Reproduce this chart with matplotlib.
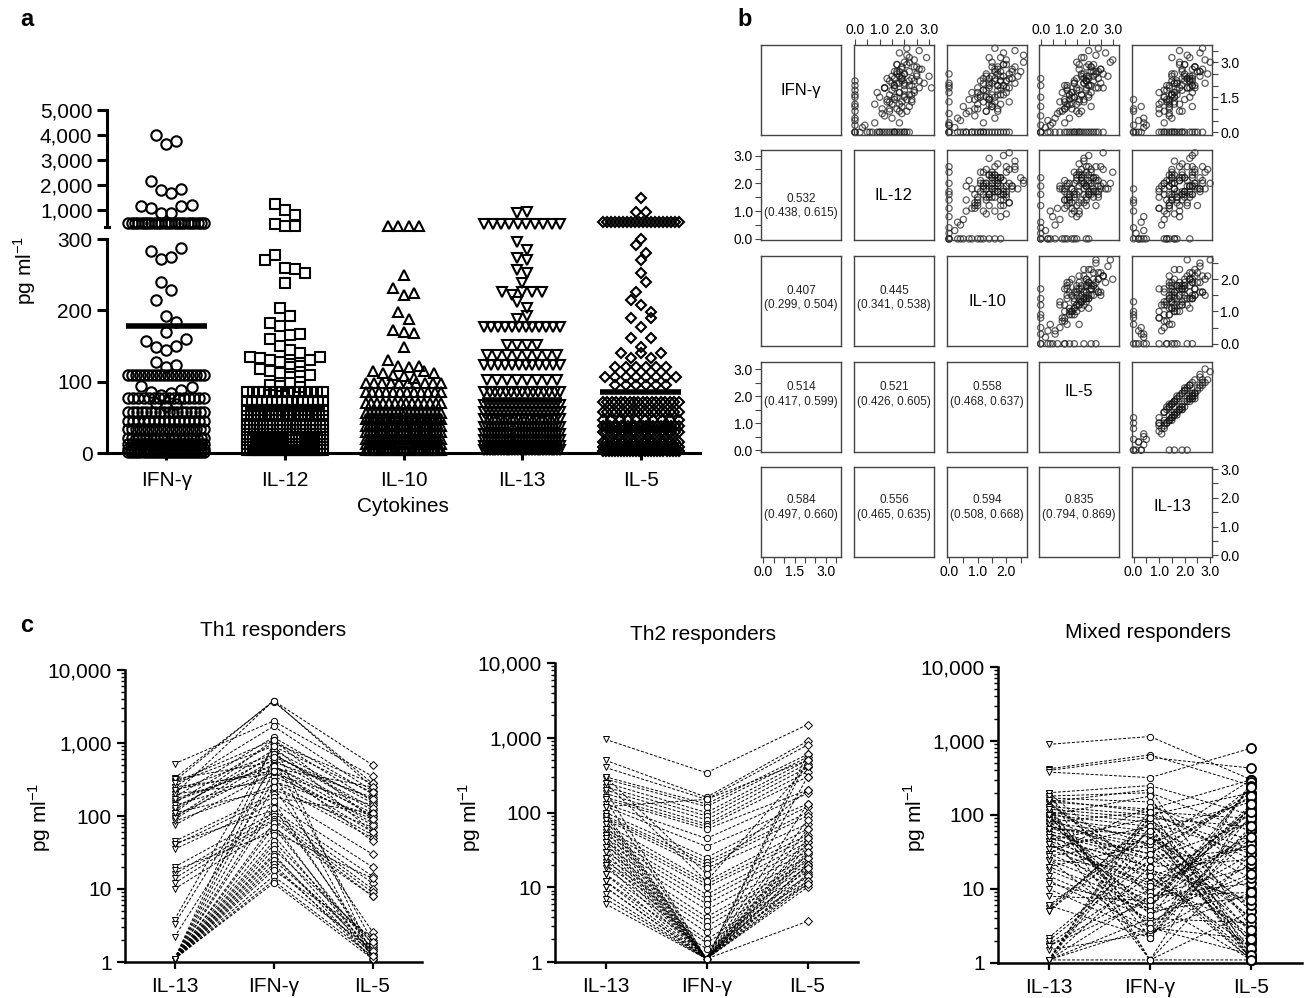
import numpy as np
import matplotlib
matplotlib.use('Agg')
from matplotlib import pyplot as plt
from matplotlib.ticker import FuncFormatter, LogLocator, NullFormatter

plt.rcParams['font.family'] = ['Liberation Sans', 'DejaVu Sans']
plt.rcParams['mathtext.fontset'] = 'custom'
plt.rcParams['mathtext.rm'] = 'Liberation Sans'

# ---------------- panel a : cytokine scatter (pg/ml) ----------------
cytokines_a = ['IFN-γ', 'IL-12', 'IL-10', 'IL-13', 'IL-5']
markers_a = ['o', 's', '^', 'v', 'D']
means_a = [178, 62, 42, 74, 86]

# sparse rows: each inner list is one horizontal row of points
ifn_sparse = [[3990, 3650, 3760], [2140, 1770, 1670, 1840], [1130, 1050, 870, 870, 1130, 1200],
              [283, 272, 275, 288], [240, 228], [215, 192, 183], [170],
              [157, 148, 145, 150, 160], [127, 120, 123], [94, 86, 82, 84, 88, 92], [70, 66, 68]]
il12_sparse = [[1240, 1000, 790], [434, 325, 325], [270, 278, 260, 258, 252], [238], [203, 192],
               [182, 178, 165, 167], [160, 150, 145, 140], [135, 133, 130, 128, 125, 122, 130, 135],
               [118, 115, 112, 120, 114, 110], [96, 94, 98, 92]]
il10_sparse = [[350, 350, 350, 350], [250], [232, 222, 225], [198, 188], [172, 170, 168], [148],
               [130, 122, 120, 122], [115, 112, 110, 108, 105, 115, 112]]
il13_sparse = [[880, 900], [296, 285], [273, 271], [257, 252], [238], [226, 222, 226, 226, 226],
               [212, 203], [188, 192]]
il5_sparse = [[1470], [890, 890], [300], [292, 280], [271], [252], [226, 240], [214, 207, 198],
              [189, 177, 189], [161, 149, 161], [140, 133, 140, 133, 140]]

# dense rows: (value, number of points in the row)
ifn_dense = [(480, 24), (110, 20), (77, 16), (58, 18), (45, 16), (34, 20), (21, 22), (12, 24),
             (6, 26), (2, 26)]
il12_dense = [(86, 14), (73, 16), (60, 22), (52, 22), (40, 24), (32, 24), (22, 26), (12, 26), (4, 28)]
il10_dense = [(98, 10), (86, 12), (70, 14), (56, 20), (47, 22), (38, 24), (30, 24), (20, 26),
              (12, 26), (4, 28)]
il13_dense = [(430, 10), (177, 12), (151, 4), (137, 8), (123, 12), (102, 8), (85, 15), (67, 20),
              (58, 20), (48, 22), (36, 26), (26, 26), (18, 26), (10, 26), (4, 28)]
il5_dense = [(520, 20), (121, 6), (107, 8), (95, 6), (72, 18), (58, 18), (46, 10), (38, 22),
             (30, 22), (16, 22), (9, 24), (3, 26)]

sparse_a = [ifn_sparse, il12_sparse, il10_sparse, il13_sparse, il5_sparse]
dense_a = [ifn_dense, il12_dense, il10_dense, il13_dense, il5_dense]

# ---------------- panel b : pairs plot, log10(pg/ml + 1) per subject ----------------
b_names = ['IFN-γ', 'IL-12', 'IL-10', 'IL-5', 'IL-13']
ifn_log = [3.6, 3.5, 3.4, 3.2, 3.0, 2.9, 2.8, 2.7, 2.7, 2.6, 2.6, 2.5, 2.5, 2.4, 2.4, 2.3, 2.3, 2.2, 2.2, 2.1,
           2.1, 2.0, 3.1, 2.9, 3.3, 2.0, 1.9, 2.4,
           1.9, 1.8, 1.8, 1.7, 1.7, 1.6, 1.6, 1.5, 1.5, 1.4, 1.4, 1.3, 1.3, 1.2, 1.2, 1.1, 1.0, 1.0, 0.9, 2.2,
           2.0, 1.9, 0.8, 0.6, 0.4,
           0.0, 0.0, 0.0, 0.0, 0.0, 0.0, 0.0, 0.0, 0.0, 0.0, 0.0, 0.0, 0.0, 0.0, 0.0, 0.0,
           2.2, 1.8, 1.5, 1.2, 0.9, 0.6, 0.3, 2.0, 1.6, 0.0, 1.1, 0.0,
           2.5, 2.1, 1.7, 1.3, 0.8, 0.0, 1.9, 0.4,
           1.4, 0.9, 0.0, 2.0, 1.5, 0.7, 2.3, 0.0, 1.0,
           0.2, 0.5, 0.0, 0.3,
           0.0, 0.0, 0.0,
           2.8, 2.4, 1.9, 3.0, 2.2, 1.6, 2.6, 1.3, 2.1, 2.9, 1.8, 2.5, 1.1, 2.3, 2.7,
           1.5, 2.0, 3.2, 1.7, 2.4, 0.9, 2.2, 1.4, 2.6, 1.9, 2.1, 1.2, 2.8, 1.6, 2.3]
il12_log = [2.1, 2.6, 1.8, 2.9, 2.0, 1.7, 2.4, 1.9, 2.7, 2.2, 1.6, 2.5, 2.0, 3.0, 1.8, 2.3, 1.9, 2.6, 2.2, 1.8,
            2.8, 2.0, 2.4, 1.7, 2.1, 2.3, 3.1, 1.9,
            1.2, 2.0, 1.5, 0.9, 1.8, 2.3, 1.4, 1.7, 1.0, 2.1, 1.6, 1.3, 1.9, 0.8, 1.5, 2.2, 1.1, 1.7, 1.4, 2.4,
            1.6, 1.2, 1.9, 1.5, 1.8,
            2.2, 2.0, 1.8, 1.6, 1.5, 1.3, 1.1, 0.9, 0.7, 1.9, 1.7, 0.5, 2.1, 1.4, 1.2, 0.0,
            0.0, 0.0, 0.0, 0.0, 0.0, 0.0, 0.0, 0.0, 0.0, 0.0, 0.0, 0.0,
            2.0, 1.7, 2.4, 1.4, 1.1, 1.6, 2.6, 0.8,
            1.3, 1.8, 1.0, 2.2, 1.6, 1.2, 1.9, 0.6, 1.4,
            0.3, 0.0, 0.2, 0.4,
            1.0, 2.0, 1.6,
            1.9, 2.5, 1.6, 2.2, 1.4, 2.0, 1.8, 2.3, 1.5, 2.1, 2.4, 1.7, 1.9, 1.3, 2.6,
            2.0, 1.6, 2.2, 1.8, 1.5, 2.1, 1.9, 2.3, 1.7, 1.2, 2.0, 1.8, 2.5, 2.2, 1.6]
il10_log = [1.6, 2.3, 1.9, 1.4, 2.6, 2.0, 1.5, 2.2, 1.7, 2.5, 1.8, 2.1, 1.3, 1.9, 2.4, 1.6, 2.2, 2.0, 1.8, 1.5,
            2.3, 1.7, 2.0, 1.9, 2.6, 1.4, 2.1, 1.8,
            1.0, 1.7, 1.3, 2.0, 0.8, 1.5, 1.9, 1.1, 1.6, 0.7, 1.4, 2.1, 1.2, 1.8, 1.0, 1.5, 0.9, 1.7, 1.3, 1.1,
            1.9, 1.4, 0.6, 1.6, 1.2,
            1.8, 1.5, 1.6, 1.2, 2.0, 1.0, 0.8, 1.3, 0.5, 1.4, 1.7, 0.4, 1.1, 0.6, 1.9, 0.0,
            1.6, 1.2, 1.0, 1.4, 0.7, 0.3, 0.0, 0.0, 1.8, 1.1, 0.5, 0.8,
            0.0, 0.0, 0.0, 0.0, 0.0, 0.0, 0.0, 0.0,
            0.9, 1.3, 0.6, 1.7, 1.4, 0.9, 1.2, 0.3, 1.0,
            0.2, 0.4, 0.0, 0.0,
            1.2, 2.1, 0.9,
            1.7, 1.3, 2.0, 1.5, 1.8, 1.1, 2.2, 1.6, 1.4, 1.9, 1.2, 1.7, 1.5, 2.1, 1.6,
            1.3, 1.9, 1.8, 1.0, 1.5, 1.7, 2.0, 1.4, 1.6, 1.8, 1.2, 1.5, 2.3, 1.7, 1.4]
il5_log = [2.4, 2.0, 2.7, 1.8, 2.9, 2.2, 1.9, 2.5, 1.6, 2.3, 2.1, 2.6, 1.7, 2.0, 2.8, 1.5, 2.4, 1.9, 2.2, 2.5,
           1.8, 2.1, 3.0, 1.6, 2.3, 2.0, 2.6, 1.9,
           1.5, 1.1, 1.9, 1.3, 0.9, 1.7, 1.2, 2.0, 1.4, 1.0, 1.8, 1.6, 0.8, 1.5, 1.2, 2.1, 1.3, 1.0, 1.7, 1.4,
           1.1, 1.9, 1.6, 1.2, 1.0,
           2.2, 2.0, 1.8, 1.5, 2.4, 1.3, 1.0, 1.6, 0.8, 1.9, 2.1, 0.6, 1.7, 1.1, 2.3, 0.3,
           1.9, 1.5, 1.3, 1.1, 0.9, 0.6, 0.4, 1.0, 2.0, 1.4, 0.0, 0.0,
           1.8, 1.4, 2.1, 1.0, 0.7, 1.2, 2.3, 0.5,
           1.2, 0.8, 0.4, 0.0, 0.0, 0.0, 0.0, 0.0, 1.0,
           0.2, 0.3, 0.0, 0.0,
           1.6, 2.6, 1.4,
           2.1, 1.7, 2.4, 1.5, 1.9, 1.2, 2.2, 1.8, 1.4, 2.0, 1.6, 2.3, 1.1, 1.8, 2.5,
           1.4, 2.0, 1.7, 1.3, 2.2, 1.5, 1.9, 1.6, 2.4, 1.1, 1.8, 1.3, 2.1, 1.7, 2.0]
il13_log = [2.7, 1.8, 2.6, 2.2, 3.0, 2.0, 2.4, 2.3, 1.9, 2.6, 1.9, 2.9, 1.5, 2.3, 2.6, 1.9, 2.2, 2.3, 2.0, 2.8,
            1.6, 2.4, 2.8, 2.0, 2.1, 2.3, 2.4, 2.2,
            1.8, 1.2, 1.7, 1.6, 1.0, 1.5, 1.5, 2.2, 1.2, 1.3, 2.0, 1.4, 1.1, 1.8, 1.0, 2.3, 1.4, 1.0, 1.9, 1.5,
            1.4, 2.1, 1.4, 1.5, 1.2,
            2.0, 2.4, 1.6, 1.9, 2.2, 1.7, 1.0, 1.3, 1.2, 2.3, 1.9, 1.1, 1.4, 1.5, 2.5, 0.2,
            2.2, 1.3, 1.6, 1.4, 1.2, 0.4, 0.5, 1.3, 1.7, 1.6, 0.3, 0.0,
            1.6, 1.7, 2.3, 1.3, 1.0, 1.5, 2.1, 0.4,
            0.0, 0.0, 0.0, 1.9, 1.6, 1.4, 2.1, 0.3, 0.0,
            0.4, 0.2, 0.1, 0.0,
            1.8, 2.7, 1.2,
            2.4, 1.5, 2.2, 1.8, 1.7, 1.5, 2.5, 1.6, 1.7, 1.8, 1.9, 2.0, 1.4, 2.1, 2.7,
            1.2, 2.3, 1.5, 1.6, 2.0, 1.8, 2.2, 1.4, 2.6, 1.4, 1.6, 1.6, 2.4, 1.5, 2.3]
b_data = [ifn_log, il12_log, il10_log, il5_log, il13_log]
b_lims = [(-0.12, 3.74), (-0.04, 3.2), (-0.07, 2.72), (-0.07, 3.26), (-0.06, 3.07)]

# lower triangle, row by row
corr_r = ['0.532', '0.407', '0.445', '0.514', '0.521', '0.558', '0.584', '0.556', '0.594', '0.835']
corr_ci = ['(0.438, 0.615)', '(0.299, 0.504)', '(0.341, 0.538)', '(0.417, 0.599)', '(0.426, 0.605)',
           '(0.468, 0.637)', '(0.497, 0.660)', '(0.465, 0.635)', '(0.508, 0.668)', '(0.794, 0.869)']

# ---------------- panel c : responder groups (IL-13, IFN-γ, IL-5) ----------------
c_labels = ['IL-13', 'IFN-γ', 'IL-5']
th1_il13 = [300, 330, 200, 520, 250, 180, 290, 150, 120, 220, 90, 320, 160, 100, 75, 250, 140, 200, 85, 110,
            45, 40, 35, 42, 20, 16, 14, 12, 10, 18, 3.8, 3.3, 2.2, 1.1, 1.1, 1.1, 1.1, 1.1, 1.1, 1.1,
            1.1, 1.1, 1.1, 1.1, 1.1, 1.1, 1.1, 1.1, 1.1, 1.1, 1.1, 1.1, 1.1, 1.1, 95, 130, 170, 230, 280, 110]
th1_ifn = [3800, 3700, 3800, 2000, 1700, 1200, 1100, 1000, 800, 700, 600, 550, 500, 450, 400, 380, 350, 300, 260, 230,
           200, 180, 150, 120, 110, 100, 90, 85, 70, 60, 900, 500, 300, 250, 80, 70, 55, 45, 40, 35,
           30, 28, 25, 22, 20, 18, 15, 13, 12, 130, 160, 400, 600, 1000, 700, 650, 480, 420, 900, 1100]
th1_il5 = [500, 280, 250, 350, 220, 200, 160, 280, 150, 120, 100, 180, 80, 250, 60, 140, 90, 55, 50, 70,
           30, 110, 20, 15, 12, 10, 9, 8, 8, 14, 60, 45, 100, 2.6, 1.2, 1.5, 1.3, 1.8, 1.2, 2.0,
           1.1, 1.4, 1.6, 1.1, 1.3, 2.2, 1.5, 1.2, 1.1, 1.7, 1.4, 1.1, 1.9, 1.2, 130, 170, 110, 75, 210, 90]

th2_il13 = [950, 500, 400, 300, 280, 250, 220, 200, 180, 160, 150, 130, 120, 100, 90, 85, 80, 70, 60, 55,
            50, 45, 40, 35, 30, 25, 22, 20, 18, 15, 12, 10, 8, 7, 6, 200, 150, 100, 90, 80,
            70, 60, 50, 45, 40, 35, 30, 25, 20, 15, 12, 10, 300, 250, 120]
th2_ifn = [340, 160, 150, 130, 120, 100, 90, 80, 70, 65, 60, 45, 35, 25, 22, 20, 18, 12, 11, 10,
           8, 7, 6, 5, 4, 3.5, 3, 2.5, 2, 1.8, 1.5, 1.1, 1.1, 1.1, 1.1, 1.1, 1.1, 1.1, 1.1, 1.1,
           1.1, 1.1, 1.1, 1.1, 1.1, 1.1, 1.1, 1.1, 1.1, 1.1, 1.1, 1.1, 15, 12, 150]
th2_il5 = [1500, 900, 800, 600, 550, 500, 450, 400, 350, 300, 200, 180, 130, 120, 100, 90, 70, 60, 50, 45,
           40, 35, 30, 25, 22, 20, 18, 16, 14, 12, 11, 10, 3.5, 20, 15, 600, 500, 300, 130, 80,
           60, 40, 35, 28, 25, 20, 18, 14, 12, 11, 30, 45, 200, 420, 500]

mix_il13 = [900, 420, 400, 380, 200, 180, 150, 130, 120, 110, 100, 90, 80, 70, 60, 55, 50, 45, 40, 35,
            30, 25, 20, 18, 15, 13, 10, 6, 5.5, 5, 2.2, 1.8, 1.7, 1.1, 1.1, 1.1, 1.1, 1.1, 1.1, 1.1,
            1.1, 200, 120, 60, 25, 150, 100, 170, 80, 45, 30, 70, 140, 20, 12, 8, 1.1, 1.5,
            150, 90, 60, 45, 110, 75, 35, 200, 130, 55, 25, 95, 65, 40, 180, 120, 50, 28, 85, 5,
            6, 2, 1.7, 160, 100]
mix_ifn = [1150, 650, 600, 320, 250, 200, 120, 100, 90, 80, 70, 60, 50, 40, 30, 25, 20, 15, 12, 10,
           8, 7, 6, 5, 4, 3, 2.5, 2.2, 80, 60, 30, 15, 10, 120, 100, 70, 50, 20, 8, 3,
           1.1, 1.1, 1.1, 1.1, 2.2, 220, 180, 150, 110, 90, 130, 35, 18, 40, 5.5, 7, 4, 2.5,
           12, 25, 6, 3.5, 40, 9, 70, 15, 2.2, 30, 18, 5, 55, 11, 8, 2.8, 20, 45, 4.5, 90,
           60, 25, 7, 110, 3]
mix_il5 = [300, 250, 430, 800, 100, 60, 1.1, 200, 5, 30, 1.5, 150, 10, 300, 2, 80, 1.2, 40, 3, 120,
           20, 1.1, 60, 8, 250, 1.3, 15, 100, 2.5, 4, 200, 1.1, 50, 300, 35, 1.1, 6, 25, 12, 70,
           150, 1.1, 30, 5, 280, 3, 1.2, 18, 90, 1.8, 45, 2.2, 1.1, 170, 250, 110, 3.5, 9,
           40, 6, 130, 22, 2.8, 90, 14, 1.6, 65, 180, 7, 30, 1.3, 110, 9, 50, 240, 4, 16, 70,
           1.1, 35, 140, 25, 2.1]

# ---------------- layout helpers ----------------
W, H = 1314, 998
fig = plt.figure(figsize=(W / 100, H / 100), dpi=100)


def box(x0, y0, x1, y1):
    # pixel box (top-left origin) -> figure fraction
    return [x0 / W, 1 - y1 / H, (x1 - x0) / W, (y1 - y0) / H]


def row_offsets(n):
    if n == 1:
        return np.zeros(1)
    step = min(0.085, 0.64 / (n - 1))
    return (np.arange(n) - (n - 1) / 2) * step


comma = FuncFormatter(lambda v, p: f'{v:,.0f}')
FS = 15

# ---------------- panel a ----------------
ax_hi = fig.add_axes(box(107, 110, 700, 227))
ax_lo = fig.add_axes(box(107, 239, 700, 453))
msize = {'o': 7.5, 's': 7, '^': 7, 'v': 7.5, 'D': 5.5}

for i in range(5):
    rows = [list(r) for r in sparse_a[i]] + [[v] * n for v, n in dense_a[i]]
    xs, ys = [], []
    for r in rows:
        xs.extend(i + row_offsets(len(r)))
        ys.extend(r)
    xs, ys = np.array(xs), np.array(ys)
    m = markers_a[i]
    lo = ys <= 300
    ax_lo.plot(xs[lo], ys[lo], m, ms=msize[m], mfc='none', mec='black', mew=1.5, ls='none', clip_on=False)
    ax_hi.plot(xs[~lo], ys[~lo], m, ms=msize[m], mfc='none', mec='black', mew=1.5, ls='none', clip_on=False)
    ax_lo.hlines(means_a[i], i - 0.34, i + 0.34, color='black', lw=4, zorder=5)

for ax in (ax_lo, ax_hi):
    ax.set_xlim(-0.5, 4.5)
    for s in ('top', 'right'):
        ax.spines[s].set_visible(False)
    ax.spines['left'].set_linewidth(2.2)
    ax.tick_params(axis='y', labelsize=FS, width=2.2, length=7)
    ax.patch.set_alpha(0)

ax_lo.set_ylim(0, 300)
ax_lo.set_yticks([0, 100, 200, 300])
ax_lo.spines['bottom'].set_linewidth(2.2)
ax_lo.set_xticks(range(5))
ax_lo.set_xticklabels(cytokines_a)
ax_lo.tick_params(axis='x', labelsize=FS, width=2.2, length=5, pad=8)

ax_hi.set_ylim(300, 5000)
ax_hi.set_yticks([1000, 2000, 3000, 4000, 5000])
ax_hi.yaxis.set_major_formatter(comma)
ax_hi.spines['bottom'].set_visible(False)
ax_hi.set_xticks([])
ax_hi.plot([-0.5 - 0.02, -0.5 + 0.02], [300, 300], color='black', lw=2.2, clip_on=False)

fig.text(25 / W, 1 - 270 / H, 'pg ml$^{-1}$', rotation=90, ha='center', va='center', fontsize=FS)
fig.text(403 / W, 1 - 507 / H, 'Cytokines', ha='center', va='center', fontsize=FS)

# ---------------- panel b ----------------
b_left = [761, 854, 947, 1039, 1132]
b_top = [45, 150, 256, 362, 467]
cw, ch = 80, 90
name_y = [0.5, 0.5, 0.5, 0.67, 0.56]
corr_y = [None, 0.38, 0.53, 0.64, 0.55]
edge = '#444444'

# which outer axes get ticks: (row, col, side, top value, labelled values)
b_axes = [(0, 1, 'top', 3.0, [0, 1, 2, 3]), (0, 3, 'top', 3.0, [0, 1, 2, 3]),
          (0, 4, 'right', 3.5, [0, 1.5, 3]), (2, 4, 'right', 2.5, [0, 1, 2]),
          (4, 4, 'right', 3.0, [0, 1, 2, 3]), (1, 0, 'left', 3.0, [0, 1, 2, 3]),
          (3, 0, 'left', 3.0, [0, 1, 2, 3]), (4, 0, 'bottom', 3.5, [0, 1.5, 3]),
          (4, 2, 'bottom', 2.5, [0, 1, 2]), (4, 4, 'bottom', 3.0, [0, 1, 2, 3])]

cells = {}
for i in range(5):
    for j in range(5):
        ax = fig.add_axes(box(b_left[j], b_top[i], b_left[j] + cw, b_top[i] + ch))
        cells[(i, j)] = ax
        ax.set_xlim(*b_lims[j])
        ax.set_ylim(*b_lims[i])
        ax.set_xticks([])
        ax.set_yticks([])
        for s in ax.spines.values():
            s.set_color(edge)
            s.set_linewidth(1.0)
        if i == j:
            ax.text(0.5, name_y[i], b_names[i], transform=ax.transAxes, ha='center', va='center', fontsize=12)
        elif j > i:
            ax.scatter(b_data[j], b_data[i], s=20, facecolors='none', edgecolors='#1a1a1a',
                       linewidths=0.9, alpha=0.7, clip_on=False)
        else:
            idx = i * (i - 1) // 2 + j
            ax.text(0.5, corr_y[i], corr_r[idx] + '\n' + corr_ci[idx], transform=ax.transAxes,
                    ha='center', va='center', fontsize=8.5, linespacing=1.25, color='#222222')

for i, j, side, top, labelled in b_axes:
    ax = cells[(i, j)]
    ticks = np.arange(0, top + 0.01, 0.5)
    fmt = FuncFormatter(lambda v, p, lab=labelled: f'{v:.1f}' if any(abs(v - l) < 1e-6 for l in lab) else '')
    if side in ('top', 'bottom'):
        ax.set_xticks(ticks)
        ax.xaxis.set_major_formatter(fmt)
        ax.tick_params(axis='x', top=(side == 'top'), labeltop=(side == 'top'),
                       bottom=(side == 'bottom'), labelbottom=(side == 'bottom'),
                       length=4, width=0.8, color=edge, labelsize=10, pad=2)
    else:
        ax.set_yticks(ticks)
        ax.yaxis.set_major_formatter(fmt)
        ax.tick_params(axis='y', left=(side == 'left'), labelleft=(side == 'left'),
                       right=(side == 'right'), labelright=(side == 'right'),
                       length=4, width=0.8, color=edge, labelsize=10, pad=2)

# ---------------- panel c ----------------
# (pixel box, title, data, y-label x, title xy, IL-5 marker style)
c_panels = [((125, 670, 422, 962), 'Th1 responders', th1_il13, th1_ifn, th1_il5, 40, (273, 630), ('D', 3.6, 0.7)),
            ((555, 663, 858, 962), 'Th2 responders', th2_il13, th2_ifn, th2_il5, 470, (703, 634), ('D', 3.6, 0.7)),
            ((998, 667, 1302, 963), 'Mixed responders', mix_il13, mix_ifn, mix_il5, 915, (1148, 633), ('o', 6.5, 1.3))]

for rect, title, a13, aifn, a5, ylx, (tx, ty), (m5, ms5, mw5) in c_panels:
    ax = fig.add_axes(box(*rect))
    for v13, vifn, v5 in zip(a13, aifn, a5):
        ax.plot([0, 1, 2], [v13, vifn, v5], ls=(0, (3, 1.8)), lw=0.7, color='black', zorder=2)
    ax.plot(np.zeros(len(a13)), a13, 'v', ms=4.5, mfc='white', mec='black', mew=0.7, ls='none',
            clip_on=False, zorder=3)
    ax.plot(np.ones(len(aifn)), aifn, 'o', ms=4.5, mfc='white', mec='black', mew=0.7, ls='none',
            clip_on=False, zorder=3)
    ax.plot(np.full(len(a5), 2), a5, m5, ms=ms5, mfc='white', mec='black', mew=mw5, ls='none',
            clip_on=False, zorder=3)
    ax.set_yscale('log')
    ax.set_ylim(1, 10000)
    ax.set_xlim(-0.5, 2.5)
    ax.set_yticks([1, 10, 100, 1000, 10000])
    ax.yaxis.set_major_formatter(comma)
    ax.yaxis.set_minor_locator(LogLocator(base=10, subs=np.arange(2, 10)))
    ax.yaxis.set_minor_formatter(NullFormatter())
    ax.set_xticks([0, 1, 2])
    ax.set_xticklabels(c_labels)
    for s in ('top', 'right'):
        ax.spines[s].set_visible(False)
    ax.spines['left'].set_linewidth(1.8)
    ax.spines['bottom'].set_linewidth(1.8)
    ax.tick_params(axis='y', which='major', labelsize=FS, width=1.6, length=6)
    ax.tick_params(axis='y', which='minor', width=1.0, length=3)
    ax.tick_params(axis='x', labelsize=FS, width=1.6, length=5, pad=6)
    fig.text(tx / W, 1 - ty / H, title, ha='center', va='center', fontsize=FS)
    fig.text(ylx / W, 1 - 817 / H, 'pg ml$^{-1}$', rotation=90, ha='center', va='center', fontsize=FS)

# panel letters
for letter, (px, py) in zip('abc', [(20, 20), (737, 20), (20, 625)]):
    fig.text(px / W, 1 - py / H, letter, fontsize=17, fontweight='bold', ha='left', va='center')

fig.savefig('out.png', dpi=100)
